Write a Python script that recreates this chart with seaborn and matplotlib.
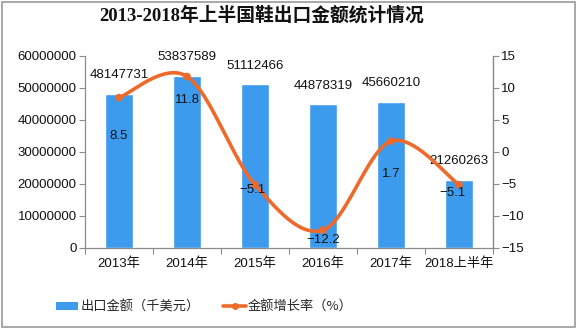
import numpy as np
import pandas as pd
import matplotlib
matplotlib.use("Agg")
import matplotlib.pyplot as plt
from matplotlib.patches import Rectangle, Patch
from matplotlib.lines import Line2D
import seaborn as sns

# Shoe exports, 2013 to first half of 2018
years = ["2013年", "2014年", "2015年", "2016年", "2017年", "2018上半年"]
export_value = [48147731, 53837589, 51112466, 44878319, 45660210, 21260263]  # thousand USD
growth_rate = [8.5, 11.8, -5.1, -12.2, 1.7, -5.1]  # %

left_ticks = [0, 10000000, 20000000, 30000000, 40000000, 50000000, 60000000]
right_ticks = [-15, -10, -5, 0, 5, 10, 15]

title = "2013-2018年上半国鞋出口金额统计情况"
bar_name = "出口金额（千美元）"
line_name = "金额增长率（%）"

BAR_COLOR = "#3D9BEE"
LINE_COLOR = "#EE6A2A"
AXIS_COLOR = "#8C8C8C"
NUM_FONT = ["Liberation Sans", "Noto Sans CJK SC"]
CJK_FONT = ["Noto Sans CJK SC", "DejaVu Sans"]

sns.set_theme(style="white")
plt.rcParams["font.family"] = NUM_FONT

df = pd.DataFrame({"year": years, "value": export_value, "growth": growth_rate})

fig = plt.figure(figsize=(5.78, 3.29), dpi=100)
ax = fig.add_axes([85 / 578, 1 - 248 / 329, 408 / 578, 192 / 329])

sns.barplot(data=df, x="year", y="value", color=BAR_COLOR, saturation=1,
            width=0.41, ax=ax, zorder=2)
ax.set_xlim(-0.5, len(years) - 0.5)
ax.set_ylim(0, 60000000)
ax.set_yticks(left_ticks)
ax.set_yticklabels([str(t) for t in left_ticks], fontsize=9.5, color="#111111")
ax.set_xlabel("")
ax.set_ylabel("")
ax.set_xticks(range(len(years)))
ax.set_xticklabels(years, fontsize=9.5, color="#111111")
ax.tick_params(axis="x", length=0, pad=7)
ax.tick_params(axis="y", length=4, width=0.8, color=AXIS_COLOR, pad=2, left=True)
# category boundary ticks below the x axis
ax.set_xticks(np.arange(-0.5, len(years), 1.0), minor=True)
ax.tick_params(axis="x", which="minor", length=4, width=0.8, color=AXIS_COLOR, bottom=True)

for s in ["top"]:
    ax.spines[s].set_visible(False)
for s in ["left", "bottom", "right"]:
    ax.spines[s].set_color(AXIS_COLOR)
    ax.spines[s].set_linewidth(0.9)

# value labels above bars
for i, v in enumerate(export_value):
    ax.annotate(str(v), (i, v), xytext=(0, 9), textcoords="offset points",
                ha="center", va="bottom", fontsize=9.5, color="#111111", zorder=5)

# growth rate on a secondary axis, drawn as a smoothed curve
ax2 = ax.twinx()
ax2.set_ylim(-15, 15)
ax2.set_yticks(right_ticks)
ax2.set_yticklabels([f"{t}".replace("-", "−") for t in right_ticks], fontsize=9.5, color="#111111")
ax2.tick_params(axis="y", length=4, width=0.8, color=AXIS_COLOR, pad=2, right=True)
for s in ["top", "left", "bottom"]:
    ax2.spines[s].set_visible(False)
ax2.spines["right"].set_color(AXIS_COLOR)
ax2.spines["right"].set_linewidth(0.9)
ax2.grid(False)
ax.grid(False)


def catmull_rom(xs, ys, n=40):
    px = np.concatenate([[xs[0]], xs, [xs[-1]]])
    py = np.concatenate([[ys[0]], ys, [ys[-1]]])
    cx, cy = [], []
    for k in range(1, len(px) - 2):
        t = np.linspace(0, 1, n)
        for arr, out in ((px, cx), (py, cy)):
            p0, p1, p2, p3 = arr[k - 1], arr[k], arr[k + 1], arr[k + 2]
            out.extend(0.5 * ((2 * p1) + (-p0 + p2) * t +
                              (2 * p0 - 5 * p1 + 4 * p2 - p3) * t ** 2 +
                              (-p0 + 3 * p1 - 3 * p2 + p3) * t ** 3))
    return np.array(cx), np.array(cy)


xpos = np.arange(len(years), dtype=float)
sx, sy = catmull_rom(xpos, np.array(growth_rate, dtype=float))
curve = pd.DataFrame({"x": sx, "y": sy})
sns.lineplot(data=curve, x="x", y="y", ax=ax2, color=LINE_COLOR, linewidth=2.6,
             sort=False, estimator=None, zorder=3)
sns.scatterplot(x=xpos, y=growth_rate, ax=ax2, color=LINE_COLOR, s=30,
                edgecolor="none", zorder=4)
ax2.set_xlabel("")
ax2.set_ylabel("")

# growth labels, offsets in points
label_offsets = [(0, -28), (0, -17), (-2, -4), (0, -7), (0, -24), (-5, -6)]
for i, (g, off) in enumerate(zip(growth_rate, label_offsets)):
    ax2.annotate(f"{g}".replace("-", "−"), (i, g), xytext=off, textcoords="offset points",
                 ha="center", va="center", fontsize=9.5, color="#111111", zorder=6)

ax2.set_xlim(-0.5, len(years) - 0.5)

# title
fig.text(0.452, 1 - 15 / 329, title, ha="center", va="center", fontsize=13.5,
         fontweight="bold", family=["Liberation Serif", "Noto Sans CJK SC"], color="#111111")

# legend
handles = [Patch(facecolor=BAR_COLOR, edgecolor="none"),
           Line2D([0], [0], color=LINE_COLOR, lw=2.6, marker="o", markersize=4)]
leg = fig.legend(handles, [bar_name, line_name], loc="center left",
                 bbox_to_anchor=(44 / 578, 1 - 307 / 329), ncol=2, frameon=False,
                 prop={"family": CJK_FONT, "size": 9.5}, handlelength=1.7,
                 handletextpad=0.15, columnspacing=1.8, handleheight=0.6)

# outer frame
fig.patches.append(Rectangle((2 / 578, 2 / 329), 573 / 578, 325 / 329, transform=fig.transFigure,
                             fill=False, edgecolor="#9A9A9A", linewidth=1.2))

fig.savefig("out.png", dpi=100)
